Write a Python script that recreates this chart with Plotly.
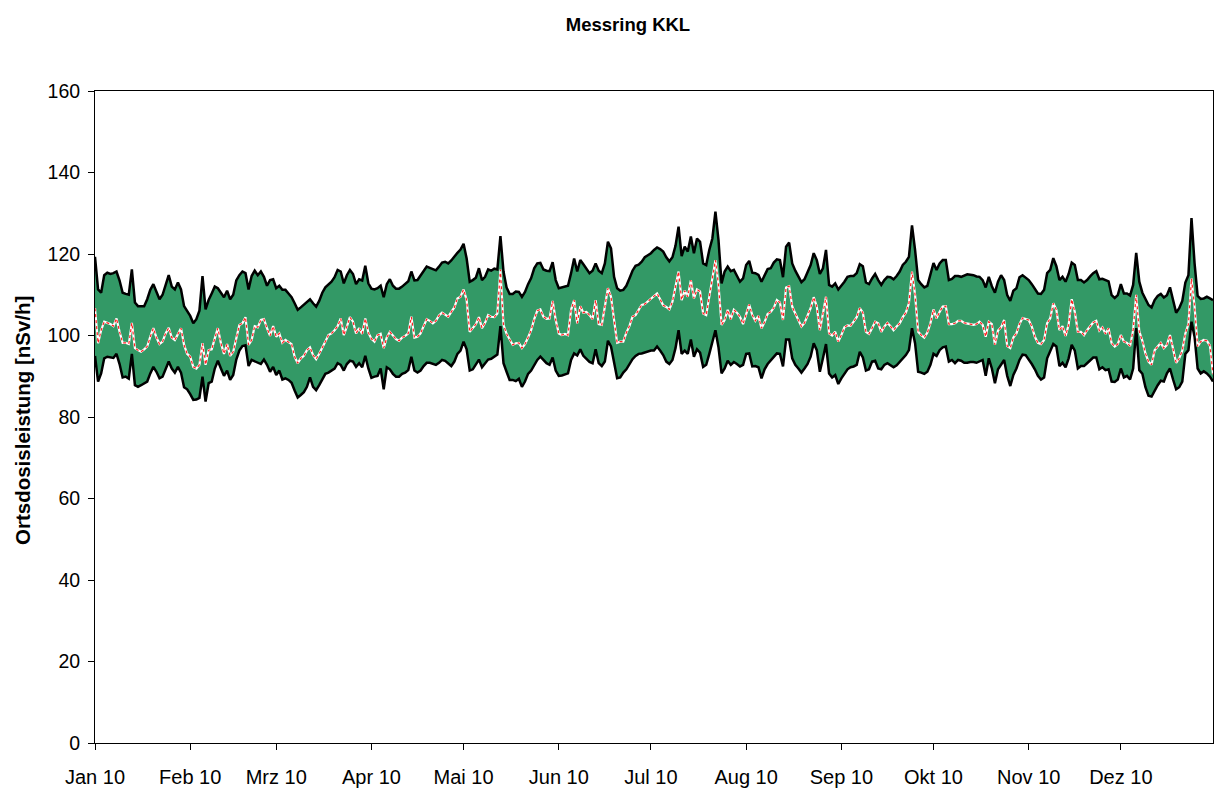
import pandas as pd
import plotly.graph_objects as go

# Daily values for 2010 (nSv/h): daily mean and min/max band of the ring stations
days = pd.date_range("2010-01-01", "2010-12-31", freq="D")

mean_vals = [
    106.7, 98.1, 101.3, 103.4, 103.1, 102.8, 102.3, 104.2, 100.9, 98.2,
    98.2, 97.9, 103.1, 96.9, 96.4, 96.0, 96.6, 97.3, 99.7, 101.8,
    99.5, 97.9, 98.5, 100.5, 101.9, 99.5, 98.9, 100.5, 101.8, 97.7,
    95.5, 94.8, 92.3, 91.9, 92.8, 98.1, 92.8, 96.4, 96.6, 99.3,
    101.8, 98.1, 95.5, 97.9, 95.0, 96.0, 99.7, 102.6, 103.0, 104.5,
    97.7, 98.9, 102.3, 102.0, 103.8, 104.0, 101.8, 99.9, 102.3, 99.7,
    100.5, 98.2, 98.9, 98.5, 97.9, 94.8, 93.2, 94.4, 95.0, 96.4,
    97.1, 95.2, 94.2, 95.5, 96.9, 98.5, 100.1, 100.5, 101.3, 102.3,
    104.2, 100.1, 102.2, 104.5, 103.4, 100.5, 101.8, 100.4, 104.2, 100.7,
    99.2, 98.5, 100.1, 100.4, 96.9, 99.5, 100.9, 99.9, 99.1, 98.7,
    99.5, 99.9, 100.5, 104.6, 99.5, 99.7, 100.5, 102.3, 104.0, 103.6,
    103.0, 103.6, 104.9, 105.6, 105.0, 104.6, 105.8, 106.9, 109.1, 109.5,
    111.3, 108.7, 100.9, 101.8, 102.8, 104.5, 101.8, 103.1, 105.0, 104.6,
    104.5, 105.4, 116.2, 102.6, 100.4, 99.1, 97.7, 98.1, 98.2, 96.9,
    97.9, 99.5, 101.3, 104.0, 106.1, 106.4, 104.6, 104.1, 104.2, 108.5,
    103.8, 100.5, 100.1, 100.4, 100.1, 106.3, 108.7, 103.0, 107.2, 105.6,
    105.8, 105.0, 104.0, 108.7, 102.8, 102.6, 107.1, 111.6, 109.5, 103.4,
    98.2, 98.5, 98.5, 100.7, 102.3, 104.6, 105.0, 106.3, 107.5, 107.7,
    108.3, 108.9, 109.5, 110.3, 108.9, 107.4, 107.0, 106.4, 108.3, 112.1,
    115.7, 108.7, 111.0, 109.5, 113.6, 109.1, 111.3, 110.8, 105.4, 105.0,
    109.5, 114.0, 118.5, 112.4, 102.6, 103.8, 106.3, 104.0, 106.3, 105.6,
    104.6, 102.8, 105.0, 107.6, 105.0, 103.6, 104.8, 101.8, 103.3, 105.3,
    105.8, 106.8, 108.7, 108.1, 103.8, 111.8, 112.1, 107.1, 105.4, 103.6,
    102.2, 103.1, 104.8, 106.7, 109.4, 107.1, 101.3, 105.4, 109.5, 100.5,
    100.0, 100.9, 98.5, 100.1, 102.0, 102.5, 102.4, 103.4, 104.5, 106.7,
    105.6, 100.9, 100.4, 101.8, 103.4, 103.0, 100.9, 102.2, 103.1, 102.3,
    101.3, 102.2, 103.0, 104.5, 105.6, 107.9, 115.7, 110.0, 100.9, 100.1,
    99.5, 100.7, 103.0, 106.4, 104.2, 105.8, 107.1, 107.2, 102.8, 102.8,
    103.0, 103.6, 103.6, 103.1, 103.0, 102.8, 102.6, 102.8, 103.4, 102.6,
    99.7, 103.4, 102.8, 97.7, 101.2, 102.0, 103.8, 97.4, 96.9, 99.5,
    100.5, 102.8, 104.3, 104.1, 103.8, 102.2, 99.7, 98.2, 97.9, 98.9,
    103.0, 104.2, 107.9, 106.3, 101.3, 102.3, 99.9, 102.6, 108.9, 105.8,
    100.9, 100.9, 100.1, 101.3, 102.2, 103.2, 103.6, 101.2, 102.0, 100.4,
    101.8, 98.1, 97.3, 97.9, 100.1, 98.5, 98.2, 97.4, 101.3, 110.0,
    101.0, 98.7, 95.6, 93.6, 92.8, 96.4, 97.3, 98.2, 96.9, 97.7,
    100.1, 96.9, 93.3, 94.4, 96.3, 100.5, 102.8, 114.0, 107.1, 97.3,
    98.5, 98.9, 98.7, 97.5, 90.5,
]

max_vals = [
    119.3, 111.3, 110.5, 114.8, 115.4, 115.1, 115.3, 115.7, 113.5, 110.5,
    110.2, 110.0, 116.2, 108.1, 107.2, 107.2, 107.2, 108.9, 111.2, 112.6,
    110.8, 108.9, 110.0, 112.4, 114.8, 112.0, 111.3, 113.0, 111.3, 107.2,
    106.1, 104.8, 103.0, 104.0, 106.1, 114.6, 106.4, 108.7, 110.3, 112.0,
    111.6, 110.5, 109.4, 111.0, 108.9, 110.0, 113.5, 114.8, 115.7, 115.3,
    111.3, 114.6, 115.9, 114.8, 115.7, 114.4, 112.2, 113.6, 113.8, 111.6,
    112.2, 111.2, 111.2, 110.3, 109.4, 107.9, 106.3, 106.9, 107.5, 108.3,
    108.9, 107.9, 107.1, 108.5, 110.5, 111.8, 112.4, 113.2, 114.3, 116.1,
    115.7, 112.8, 114.8, 116.1, 115.1, 112.6, 113.8, 113.5, 117.1, 112.8,
    111.5, 111.3, 111.6, 112.2, 109.4, 112.6, 113.8, 112.2, 111.5, 111.5,
    112.0, 112.6, 113.3, 115.7, 113.5, 113.6, 114.8, 115.7, 116.9, 116.6,
    116.2, 116.0, 116.9, 117.9, 118.1, 117.7, 118.4, 119.5, 120.3, 121.1,
    122.5, 118.9, 113.2, 113.6, 114.2, 116.5, 113.6, 114.4, 116.2, 115.9,
    116.4, 116.2, 124.4, 115.7, 111.8, 110.2, 110.2, 110.8, 110.7, 109.5,
    110.7, 112.6, 114.1, 116.5, 117.7, 117.8, 116.2, 115.9, 115.8, 118.0,
    113.6, 111.6, 111.8, 112.0, 112.2, 115.3, 118.9, 115.7, 118.5, 117.5,
    116.5, 115.3, 115.9, 117.7, 115.9, 115.3, 117.7, 123.0, 121.4, 114.4,
    111.6, 111.0, 111.2, 112.2, 114.0, 115.9, 117.1, 117.4, 118.1, 119.2,
    119.7, 120.2, 121.0, 121.6, 121.2, 120.6, 119.2, 118.2, 119.2, 122.0,
    126.7, 119.5, 121.8, 120.6, 124.3, 120.2, 123.8, 123.0, 117.7, 117.3,
    121.0, 123.8, 130.4, 123.4, 112.8, 115.7, 116.9, 115.8, 116.1, 114.8,
    113.2, 114.0, 117.3, 118.3, 115.4, 115.3, 114.9, 113.2, 114.9, 116.3,
    116.5, 117.9, 118.7, 118.5, 114.3, 121.8, 122.8, 117.7, 115.9, 114.3,
    113.1, 113.8, 115.7, 117.3, 120.2, 118.5, 115.1, 116.5, 121.0, 112.4,
    112.0, 112.8, 111.3, 112.2, 113.2, 114.4, 114.6, 114.6, 115.3, 117.5,
    117.0, 113.0, 112.6, 114.0, 115.1, 113.6, 112.4, 113.6, 114.4, 114.3,
    113.8, 114.6, 115.7, 117.3, 118.1, 119.3, 127.0, 121.0, 113.6, 112.6,
    111.8, 112.2, 114.8, 117.8, 116.1, 117.7, 118.5, 118.5, 113.6, 113.9,
    114.6, 114.6, 114.4, 114.8, 115.0, 114.9, 114.8, 114.5, 114.4, 113.6,
    111.8, 114.4, 112.1, 110.5, 113.2, 114.8, 113.6, 109.9, 108.5, 111.0,
    111.6, 114.3, 114.8, 114.2, 113.6, 112.6, 111.3, 110.3, 110.2, 111.2,
    115.3, 116.1, 119.0, 117.0, 113.6, 114.4, 113.2, 115.1, 117.9, 117.3,
    113.6, 113.6, 113.0, 113.6, 114.5, 115.3, 115.8, 113.8, 113.9, 113.6,
    113.3, 109.9, 109.2, 109.9, 112.6, 110.3, 110.3, 109.8, 112.4, 120.3,
    113.2, 110.5, 108.9, 107.5, 106.9, 108.7, 109.7, 110.2, 109.3, 109.9,
    111.8, 108.7, 105.6, 106.7, 108.5, 113.0, 114.8, 128.8, 117.7, 109.7,
    109.0, 109.1, 109.5, 109.1, 108.7,
]

min_vals = [
    95.0, 88.7, 90.7, 94.4, 94.8, 94.6, 94.5, 95.5, 93.0, 89.7,
    89.9, 89.4, 95.5, 87.8, 87.4, 87.8, 88.3, 88.7, 90.7, 92.3,
    91.1, 89.5, 89.9, 91.9, 93.6, 91.9, 90.9, 92.3, 90.9, 87.3,
    86.8, 85.6, 84.2, 84.3, 84.7, 89.9, 83.8, 88.3, 88.7, 91.9,
    93.8, 91.9, 90.1, 91.4, 89.1, 90.3, 94.1, 96.3, 97.4, 97.6,
    92.5, 94.0, 93.6, 93.2, 93.0, 94.1, 92.8, 91.1, 92.3, 90.3,
    91.4, 89.2, 89.5, 89.1, 88.4, 86.5, 84.8, 85.4, 86.1, 87.4,
    89.7, 87.4, 86.6, 87.8, 89.2, 90.6, 90.9, 91.4, 91.9, 93.2,
    92.8, 91.4, 93.0, 93.8, 93.6, 92.3, 93.2, 92.2, 95.0, 91.9,
    89.6, 89.9, 90.1, 91.9, 86.8, 92.2, 91.7, 90.6, 89.9, 89.9,
    90.6, 90.9, 91.5, 94.8, 91.4, 90.9, 91.4, 92.5, 93.3, 93.3,
    93.0, 92.8, 93.3, 94.0, 93.8, 93.2, 92.5, 93.6, 95.5, 96.3,
    98.5, 96.6, 91.4, 91.7, 93.0, 94.1, 92.2, 93.2, 94.1, 94.3,
    94.8, 95.3, 102.3, 93.2, 91.1, 89.1, 89.1, 88.8, 89.4, 87.4,
    88.7, 90.6, 91.4, 92.8, 94.0, 94.8, 94.0, 93.2, 92.8, 94.6,
    91.4, 90.1, 90.2, 90.4, 90.7, 94.0, 95.6, 95.1, 96.6, 95.0,
    94.2, 93.5, 93.2, 96.6, 93.2, 92.5, 93.6, 98.7, 97.3, 93.0,
    89.5, 89.7, 90.9, 91.7, 93.0, 94.2, 95.0, 95.5, 95.6, 95.9,
    96.0, 96.3, 96.3, 97.3, 96.3, 95.2, 93.6, 93.0, 94.0, 96.9,
    101.3, 95.5, 96.3, 95.5, 99.0, 94.8, 96.6, 95.8, 92.3, 92.8,
    95.5, 98.2, 101.3, 97.1, 90.7, 91.9, 93.8, 92.8, 93.5, 93.0,
    92.4, 92.8, 95.5, 95.6, 92.4, 92.5, 92.2, 89.5, 91.7, 93.0,
    93.8, 94.8, 95.6, 95.5, 92.4, 99.0, 99.0, 94.4, 92.8, 91.9,
    90.9, 91.9, 93.0, 94.8, 98.1, 96.4, 91.1, 94.4, 97.9, 90.7,
    89.7, 90.3, 88.1, 89.5, 90.6, 91.7, 92.2, 92.4, 92.8, 96.0,
    94.6, 91.4, 91.7, 93.6, 93.8, 91.9, 91.7, 92.8, 93.2, 92.8,
    92.2, 92.7, 93.6, 94.4, 95.2, 96.4, 101.8, 98.1, 91.1, 90.9,
    90.6, 91.1, 92.8, 95.5, 95.0, 96.4, 97.1, 97.3, 93.6, 94.0,
    93.2, 94.0, 93.8, 93.3, 93.3, 93.5, 93.5, 93.3, 93.7, 94.0,
    90.1, 94.4, 91.9, 88.3, 91.7, 93.0, 94.0, 90.1, 87.6, 90.3,
    91.9, 94.0, 95.3, 95.2, 94.2, 93.0, 91.7, 90.1, 89.2, 89.7,
    94.4, 96.0, 97.9, 97.3, 92.5, 93.3, 92.2, 94.4, 97.7, 96.3,
    91.9, 92.5, 92.5, 93.2, 94.0, 94.6, 94.6, 91.7, 92.2, 91.5,
    91.7, 88.7, 88.6, 89.2, 91.9, 89.7, 90.1, 89.2, 91.9, 101.8,
    91.5, 90.6, 87.3, 85.2, 85.0, 86.6, 87.8, 88.9, 88.7, 90.7,
    91.9, 89.2, 86.8, 87.3, 88.7, 95.5, 96.4, 103.4, 99.7, 91.9,
    90.7, 91.2, 90.7, 89.9, 88.7,
]

month_starts = pd.date_range("2010-01-01", "2010-12-01", freq="MS")
month_labels = ["Jan 10", "Feb 10", "Mrz 10", "Apr 10", "Mai 10", "Jun 10",
                "Jul 10", "Aug 10", "Sep 10", "Okt 10", "Nov 10", "Dez 10"]

FONT = "Liberation Sans, Arial, sans-serif"
BAND_GREEN = "#339966"

fig = go.Figure()

# lower edge of the band
fig.add_trace(go.Scatter(
    x=days, y=min_vals, mode="lines",
    line=dict(color="black", width=2.5),
    showlegend=False, hoverinfo="skip",
))
# upper edge, filled down to the lower edge
fig.add_trace(go.Scatter(
    x=days, y=max_vals, mode="lines",
    line=dict(color="black", width=2.5),
    fill="tonexty", fillcolor=BAND_GREEN,
    showlegend=False, hoverinfo="skip",
))
# daily mean: white line with a red dotted overlay
fig.add_trace(go.Scatter(
    x=days, y=mean_vals, mode="lines",
    line=dict(color="white", width=2.2),
    showlegend=False, hoverinfo="skip",
))
fig.add_trace(go.Scatter(
    x=days, y=mean_vals, mode="lines",
    line=dict(color="#ff2020", width=1.2, dash="dot"),
    showlegend=False, hoverinfo="skip",
))

fig.update_layout(
    width=1214, height=791,
    margin=dict(l=95, r=1, t=91, b=48),
    paper_bgcolor="white", plot_bgcolor="white",
    font=dict(family=FONT, color="black", size=19),
    title=dict(
        text="<b>Messring KKL</b>",
        font=dict(family=FONT, size=18.5, color="black"),
        x=628 / 1214, xref="container", xanchor="center",
        y=1 - 25 / 791, yref="container", yanchor="middle",
    ),
    xaxis=dict(
        type="date",
        range=["2010-01-01", "2010-12-31"],
        tickvals=month_starts, ticktext=month_labels,
        ticks="outside", ticklen=6, tickwidth=1, tickcolor="black",
        ticklabelstandoff=10,
        showline=True, linecolor="black", linewidth=1, mirror=True,
        showgrid=False, zeroline=False,
        tickfont=dict(family=FONT, size=20, color="black"),
    ),
    yaxis=dict(
        range=[0, 160], dtick=20,
        ticks="outside", ticklen=6, tickwidth=1, tickcolor="black",
        ticklabelstandoff=4,
        showline=True, linecolor="black", linewidth=1, mirror=True,
        showgrid=False, zeroline=False,
        tickfont=dict(family=FONT, size=19.5, color="black"),
    ),
    annotations=[dict(
        text="<b>Ortsdosisleistung [nSv/h]</b>",
        textangle=-90,
        x=(22 - 95) / 1118, xref="paper", xanchor="center",
        y=(743 - 421) / 652, yref="paper", yanchor="middle",
        showarrow=False,
        font=dict(family=FONT, size=20.5, color="black"),
    )],
)

fig.write_html("out.html")
